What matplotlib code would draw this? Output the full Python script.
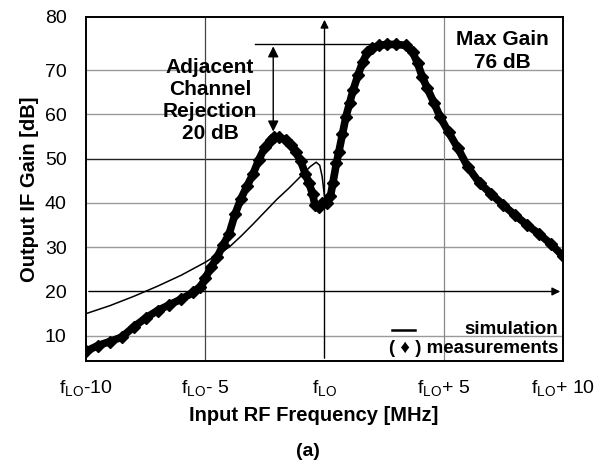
import numpy as np
import matplotlib.pyplot as plt

plt.rcParams['font.family'] = ['Liberation Sans', 'DejaVu Sans']
plt.rcParams['mathtext.fontset'] = 'custom'
plt.rcParams['mathtext.rm'] = 'Liberation Sans'
plt.rcParams['mathtext.it'] = 'Liberation Sans:italic'
plt.rcParams['mathtext.bf'] = 'Liberation Sans:bold'

# measured IF gain (offset from f_LO in MHz, dB)
meas_x = [-10, -9.5, -9, -8.5, -8, -7.5, -7, -6.5, -6, -5.5, -5.2, -5, -4.75, -4.5,
          -4.25, -4, -3.75, -3.5, -3.25, -3, -2.75, -2.5, -2.25, -2.1, -1.9, -1.6,
          -1.4, -1.2, -1.0, -0.8, -0.65, -0.5, -0.4, -0.25, -0.1, 0.1, 0.25, 0.35,
          0.5, 0.6, 0.75, 0.9, 1.05, 1.2, 1.4, 1.6, 1.8, 2.0, 2.3, 2.6, 3.0, 3.4,
          3.7, 3.9, 4.1, 4.3, 4.6, 4.85, 5.2, 5.6, 6.0, 6.5, 7.0, 7.5, 8.0, 8.5,
          9.0, 9.5, 10]
meas_y = [6.5, 7.8, 8.7, 9.7, 12, 14, 15.7, 17, 18.3, 19.8, 21, 23, 25.5, 27.8,
          30.5, 33, 37.5, 41, 43.8, 46.5, 49.8, 52.6, 54.3, 55, 54.8, 54.2,
          53, 51.5, 49.5, 46.5, 44.5, 42, 39.5, 39, 40, 40, 41.5, 44.5,
          49, 51.5, 55.5, 59.5, 62.5, 65.5, 68.8, 71.8, 74, 75, 75.6, 75.8, 75.8, 75.6,
          74, 71.6, 68.5, 66, 62.5, 59.4, 56, 52.3, 48.2, 44.5, 42, 39.5, 37.2, 35,
          33, 30.7, 28]

# simulated IF gain
sim_x = [-10, -9, -8, -7, -6, -5, -4, -3.5, -3, -2.5, -2, -1.5, -1, -0.6, -0.35,
         -0.2, -0.1, 0.0, 0.1, 0.25, 0.4, 0.6, 0.8, 1.0, 1.2, 1.4, 1.6, 1.8, 2.0,
         2.5, 3.0, 3.4, 3.7, 3.9, 4.3, 4.85, 5.6, 6.5, 7.5, 8.5, 9.5, 10]
sim_y = [15, 16.8, 18.9, 21.2, 23.7, 26.6, 30, 32.5, 35.2, 38, 40.8, 43.3, 46, 48.2, 49.2,
         48.5, 46, 41.5, 39.8, 42.5, 47, 51.5, 56, 60.5, 64.5, 68.2, 71.5, 73.6, 74.8,
         75.5, 75.5, 75, 73.5, 71.3, 65.8, 59.2, 52, 44.3, 39.3, 34.8, 30.5, 28]

max_gain = 76
adj_peak = 55.5
adj_x = -2.15

fig = plt.figure(figsize=(6.07, 4.68), dpi=100)
ax = fig.add_axes([0.1417, 0.2286, 0.7858, 0.7351])

ymin, ymax = 4.3, 82
ax.set_xlim(-10, 10)
ax.set_ylim(ymin, ymax)

# grid
for g in [10, 30, 40, 60, 70]:
    ax.axhline(g, color='#9a9a9a', lw=1.0, zorder=1)
ax.axhline(50, color='#222222', lw=1.0, zorder=1)
ax.axvline(-5, color='#444444', lw=0.9, zorder=1)
ax.axvline(5, color='#888888', lw=0.9, zorder=1)

# axis arrows
ax.annotate('', xy=(10, 20), xytext=(-10, 20),
            arrowprops=dict(arrowstyle='-|>', color='black', lw=1.0, mutation_scale=12), zorder=2)
ax.annotate('', xy=(0, ymax), xytext=(0, ymin),
            arrowprops=dict(arrowstyle='-|>', color='black', lw=1.0, mutation_scale=12), zorder=2)

ax.plot(sim_x, sim_y, color='black', lw=1.1, zorder=4)
ax.plot(meas_x, meas_y, color='black', lw=5.5, marker='D', ms=6, zorder=3)

# rejection annotation
ax.plot([-2.9, 2.3], [max_gain, max_gain], color='black', lw=1.0, zorder=2)
ax.annotate('', xy=(adj_x, adj_peak), xytext=(adj_x, max_gain),
            arrowprops=dict(arrowstyle='<|-|>', color='black', lw=1.0, mutation_scale=16))
ax.text(-4.8, 63.2, 'Adjacent\nChannel\nRejection\n20 dB', ha='center', va='center',
        fontsize=15, fontweight='bold', linespacing=1.2)
ax.text(7.45, 74.3, 'Max Gain\n76 dB', ha='center', va='center',
        fontsize=15, fontweight='bold', linespacing=1.25)

# legend text
ax.plot([2.83, 3.79], [11.2, 11.2], color='black', lw=1.8)
ax.text(9.8, 11.4, 'simulation', ha='right', va='center', fontsize=13.5, fontweight='bold')
ax.text(9.8, 7.1, '( \u2666 ) measurements', ha='right', va='center', fontsize=13.5, fontweight='bold')

ax.set_xticks([-10, -5, 0, 5, 10])
ax.set_xticklabels([r'f$_{\rm LO}$-10', r'f$_{\rm LO}$- 5', r'f$_{\rm LO}$',
                    r'f$_{\rm LO}$+ 5', r'f$_{\rm LO}$+ 10'])
ax.set_yticks([10, 20, 30, 40, 50, 60, 70, ymax])
ax.set_yticklabels(['10', '20', '30', '40', '50', '60', '70', '80'])
ax.tick_params(length=0, labelsize=14, pad=12)
ax.tick_params(axis='y', pad=14)

for s in ax.spines.values():
    s.set_linewidth(1.4)

ax.set_xlabel('Input RF Frequency [MHz]', fontsize=14.5, fontweight='bold', labelpad=10)
ax.xaxis.set_label_coords(0.477, -0.13)
ax.set_ylabel('Output IF Gain [dB]', fontsize=14.5, fontweight='bold', labelpad=4)
fig.text(0.507, 0.017, '(a)', ha='center', va='bottom', fontsize=14, fontweight='bold')

fig.savefig('out.png', dpi=100)
